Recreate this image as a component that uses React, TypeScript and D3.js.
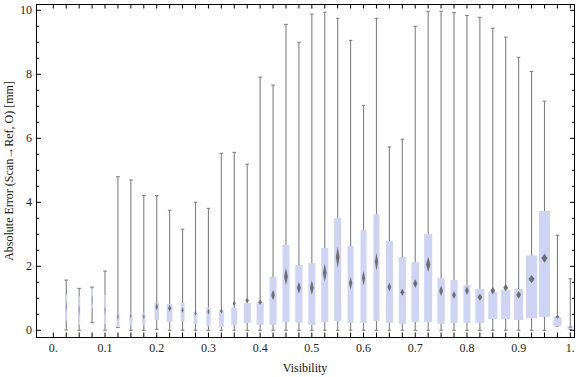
import React from "react";
import * as d3 from "d3";

// Bin centres (Visibility)
const bins: number[] = d3.range(1, 41).map((k) => +(k * 0.025).toFixed(3));

// Whisker extremes, quartiles, mean and mean-confidence half-width (mm)
const maxs = [1.57, 1.31, 1.35, 1.85, 4.8, 4.7, 4.21, 4.21, 3.75, 3.16, 4.0, 3.81, 5.53, 5.56, 5.19, 7.91, 7.66, 9.56, 9.0, 9.88, 9.94, 9.75, 9.06, 7.03, 9.75, 5.73, 5.97, 9.5, 9.97, 9.97, 9.93, 9.84, 9.78, 9.44, 9.16, 8.53, 8.09, 7.16, 2.97, 1.61];
const mins = [0.01, 0, 0.24, 0, 0.09, 0, 0, 0.03, 0, 0, 0, 0, 0, 0, 0, 0, 0, 0, 0, 0, 0, 0, 0, 0, 0, 0, 0, 0, 0, 0, 0, 0, 0, 0, 0, 0, 0, 0, 0.13, 0.03];
const q3s = [1.1, 1.06, 1.3, 1.1, 0.55, 0.55, 0.55, 0.85, 0.82, 0.85, 0.58, 0.71, 0.63, 0.7, 0.85, 0.88, 1.67, 2.67, 2.04, 2.1, 2.57, 3.51, 2.63, 3.13, 3.63, 2.79, 2.29, 2.13, 3.01, 1.63, 1.57, 1.41, 1.29, 1.2, 1.26, 1.29, 2.34, 3.73, 0.42, 0.13];
const q1s = [0.3, 0.17, 0.69, 0.2, 0.1, 0.17, 0.17, 0.32, 0.26, 0.3, 0.2, 0.13, 0.1, 0.17, 0.23, 0.17, 0.17, 0.26, 0.24, 0.17, 0.26, 0.29, 0.23, 0.23, 0.29, 0.23, 0.2, 0.26, 0.26, 0.2, 0.23, 0.23, 0.23, 0.35, 0.35, 0.32, 0.38, 0.42, 0.13, 0.05];
const means = [0.74, 0.63, 0.95, 0.63, 0.43, 0.45, 0.43, 0.74, 0.69, 0.63, 0.53, 0.58, 0.6, 0.84, 0.93, 0.88, 1.1, 1.68, 1.33, 1.33, 1.8, 2.28, 1.47, 1.63, 2.14, 1.35, 1.19, 1.46, 2.06, 1.23, 1.1, 1.24, 1.03, 1.24, 1.33, 1.11, 1.6, 2.25, 0.42, 0.1];
const meanCI = [0.2, 0.19, 0.16, 0.16, 0.12, 0.09, 0.09, 0.12, 0.11, 0.09, 0.08, 0.09, 0.08, 0.08, 0.08, 0.08, 0.16, 0.27, 0.19, 0.23, 0.28, 0.33, 0.2, 0.23, 0.28, 0.14, 0.12, 0.14, 0.24, 0.16, 0.12, 0.14, 0.11, 0.11, 0.11, 0.12, 0.13, 0.14, 0.05, 0.03];
// Relative sample weight of each bin (drives box width)
const weights = [0.18, 0.18, 0.18, 0.18, 0.27, 0.27, 0.3, 0.41, 0.52, 0.36, 0.34, 0.39, 0.45, 0.55, 0.64, 0.64, 0.64, 0.64, 0.66, 0.64, 0.64, 0.64, 0.55, 0.55, 0.55, 0.64, 0.64, 0.7, 0.73, 0.66, 0.64, 0.64, 0.82, 0.82, 0.82, 0.82, 1.0, 1.0, 0.73, 0.55];

const xTickLabels = ["0.", "0.1", "0.2", "0.3", "0.4", "0.5", "0.6", "0.7", "0.8", "0.9", "1."];
const yTickLabels = [0, 2, 4, 6, 8, 10];

const W = 576;
const H = 377;
const L = 36, R = 575, T = 4, B = 337;

export default function App() {
  const x = d3.scaleLinear().domain([-0.0335, 1.009]).range([L, R]);
  const y = d3.scaleLinear().domain([-0.209, 10.197]).range([B, T]);
  const wScale = d3.scaleLinear().domain([0, 1]).range([0, 11]);

  const xMinor = d3.range(0, 41).map((k) => k * 0.025);
  const yMinor = d3.range(0, 21).map((k) => k * 0.5);
  const font = "'Liberation Serif', 'Times New Roman', serif";
  const whisk = "#808080";

  return (
    <svg width={W} height={H} style={{ position: "absolute", left: 0, top: 0, background: "#fff" }}>
      <defs>
        <filter id="soft" x="-50%" y="-50%" width="200%" height="200%">
          <feGaussianBlur stdDeviation="0.45" />
        </filter>
      </defs>
      {/* boxes */}
      {bins.map((b, i) => {
        const cx = x(b);
        const bw = wScale(weights[i]);
        const cap = 1.8;
        const dw = Math.max(0.6, bw * 0.6 - 0.5);
        const ym = y(means[i]);
        const dh = y(means[i] - meanCI[i]) - ym;
        return (
          <g key={i}>
            <line x1={cx} x2={cx} y1={y(maxs[i])} y2={y(mins[i])} stroke={whisk} strokeWidth={1.1} />
            <line x1={cx - cap} x2={cx + cap} y1={y(maxs[i])} y2={y(maxs[i])} stroke={whisk} strokeWidth={1.1} />
            <line x1={cx - cap} x2={cx + cap} y1={y(mins[i])} y2={y(mins[i])} stroke={whisk} strokeWidth={1.1} />
            <rect x={cx - bw / 2} width={bw} y={y(q3s[i])} height={y(q1s[i]) - y(q3s[i])} fill="#cdd4f4" />
            <polygon
              points={`${cx},${ym - dh} ${cx + dw / 2},${ym} ${cx},${ym + dh} ${cx - dw / 2},${ym}`}
              fill="#6e6e6e"
              filter="url(#soft)"
            />
          </g>
        );
      })}
      {/* frame */}
      <rect x={L + 0.5} y={T + 0.5} width={R - L - 1} height={B - T} fill="none" stroke="#000" strokeWidth={1} />
      {/* x ticks */}
      {xMinor.map((v, i) => (
        <g key={"xt" + i}>
          <line x1={x(v)} x2={x(v)} y1={B} y2={B - 4.5} stroke="#000" strokeWidth={1} />
          <line x1={x(v)} x2={x(v)} y1={T} y2={T + 4.5} stroke="#000" strokeWidth={1} />
        </g>
      ))}
      {/* y ticks */}
      {yMinor.map((v, i) => {
        const major = Math.abs(v % 2) < 1e-9;
        const len = major ? 5 : 3;
        return (
          <g key={"yt" + i}>
            <line x1={L} x2={L + len} y1={y(v)} y2={y(v)} stroke="#000" strokeWidth={1} />
            <line x1={R} x2={R - len} y1={y(v)} y2={y(v)} stroke="#000" strokeWidth={1} />
          </g>
        );
      })}
      {xTickLabels.map((t, i) => (
        <text key={"xl" + i} x={x(i / 10)} y={352} textAnchor="middle" fontFamily={font} fontSize={12} fill="#222">
          {t}
        </text>
      ))}
      {yTickLabels.map((t) => (
        <text key={"yl" + t} x={32} y={y(t) + 4} textAnchor="end" fontFamily={font} fontSize={12} fill="#222">
          {t}
        </text>
      ))}
      <text x={305} y={372} textAnchor="middle" fontFamily={font} fontSize={12} fill="#111">
        Visibility
      </text>
      <text transform="translate(13,171) rotate(-90)" textAnchor="middle" fontFamily={font} fontSize={12} fill="#111">
        Absolute Error (Scan→Ref, O) [mm]
      </text>
    </svg>
  );
}
